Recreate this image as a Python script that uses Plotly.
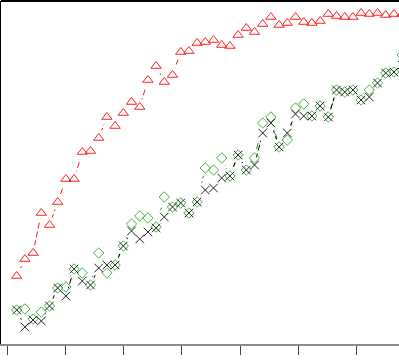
import plotly.graph_objects as go

# values (height above the bottom axis)
idx = list(range(48))
red_vals = [68, 85, 91, 131, 119, 142, 165, 165, 192, 193, 206, 227, 218, 231, 242, 237,
            264, 278, 262, 269, 292, 293, 301, 302, 304, 299, 298, 309, 316, 312, 320, 327,
            319, 321, 327, 322, 321, 323, 330, 328, 327, 327, 331, 330, 331, 329, 330, 330]
black_vals = [34, 17, 24, 23, 38, 56, 48, 75, 63, 59, 76, 79, 79, 98, 113, 105,
              112, 116, 127, 137, 141, 131, 142, 154, 156, 166, 168, 189, 174, 179, 211, 221,
              197, 211, 230, 228, 228, 238, 227, 254, 252, 254, 244, 247, 261, 271, 272, 279]
green_vals = [34, 35, 25, 32, 38, 56, 57, 75, 71, 59, 91, 71, 79, 98, 120, 128,
              126, 117, 147, 137, 141, 131, 142, 176, 174, 186, 168, 189, 174, 186, 221, 227,
              197, 204, 236, 240, 228, 238, 227, 254, 252, 254, 244, 254, 261, 271, 272, 289]
tick_vals = [-1.15, 5.95, 13.05, 20.15, 27.25, 34.35, 41.45]

# name, values, line colour, marker colour, symbol, size
series = [
    ("green", green_vals, "#1a8f1a", "#45b045", "diamond-open", 8),
    ("black", black_vals, "black", "#222222", "x-thin-open", 8.5),
    ("red", red_vals, "#ff1a1a", "#ff2020", "triangle-up-open", 9),
]

fig = go.Figure()

# dashed lines, with a white disc over each point so the line stops short (type="b" look)
for name, vals, lcol, mcol, sym, sz in series:
    fig.add_trace(go.Scatter(x=idx, y=vals, mode="lines", showlegend=False, hoverinfo="skip",
                             line=dict(color=lcol, width=1, dash="6px,3px")))
    fig.add_trace(go.Scatter(x=idx, y=vals, mode="markers", showlegend=False, hoverinfo="skip",
                             marker=dict(symbol="circle", size=16, color="white")))

for name, vals, lcol, mcol, sym, sz in series:
    fig.add_trace(go.Scatter(x=idx, y=vals, mode="markers", name=name, showlegend=False,
                             marker=dict(symbol=sym, size=sz, color=mcol,
                                         line=dict(color=mcol, width=1))))

fig.add_shape(type="line", xref="paper", yref="paper", x0=0, x1=1, y0=1, y1=1,
              line=dict(color="black", width=2))

fig.update_layout(
    width=399, height=363,
    margin=dict(l=1, r=0, t=1, b=19),
    plot_bgcolor="white", paper_bgcolor="white",
    xaxis=dict(range=[-1.915, 46.62], showgrid=False, zeroline=False,
               showline=True, linecolor="#8c8c8c", linewidth=2,
               ticks="outside", ticklen=9, tickwidth=1, tickcolor="#444",
               tickvals=tick_vals, showticklabels=False),
    yaxis=dict(range=[0, 343], showgrid=False, zeroline=False,
               showline=True, linecolor="black", linewidth=2,
               showticklabels=False, ticks=""),
)

# drop the page's default body margin so the figure sits at the window corner
fig.write_html("out.html", config={"displayModeBar": False},
               post_script="document.body.style.margin='0';document.body.style.overflow='hidden';")
